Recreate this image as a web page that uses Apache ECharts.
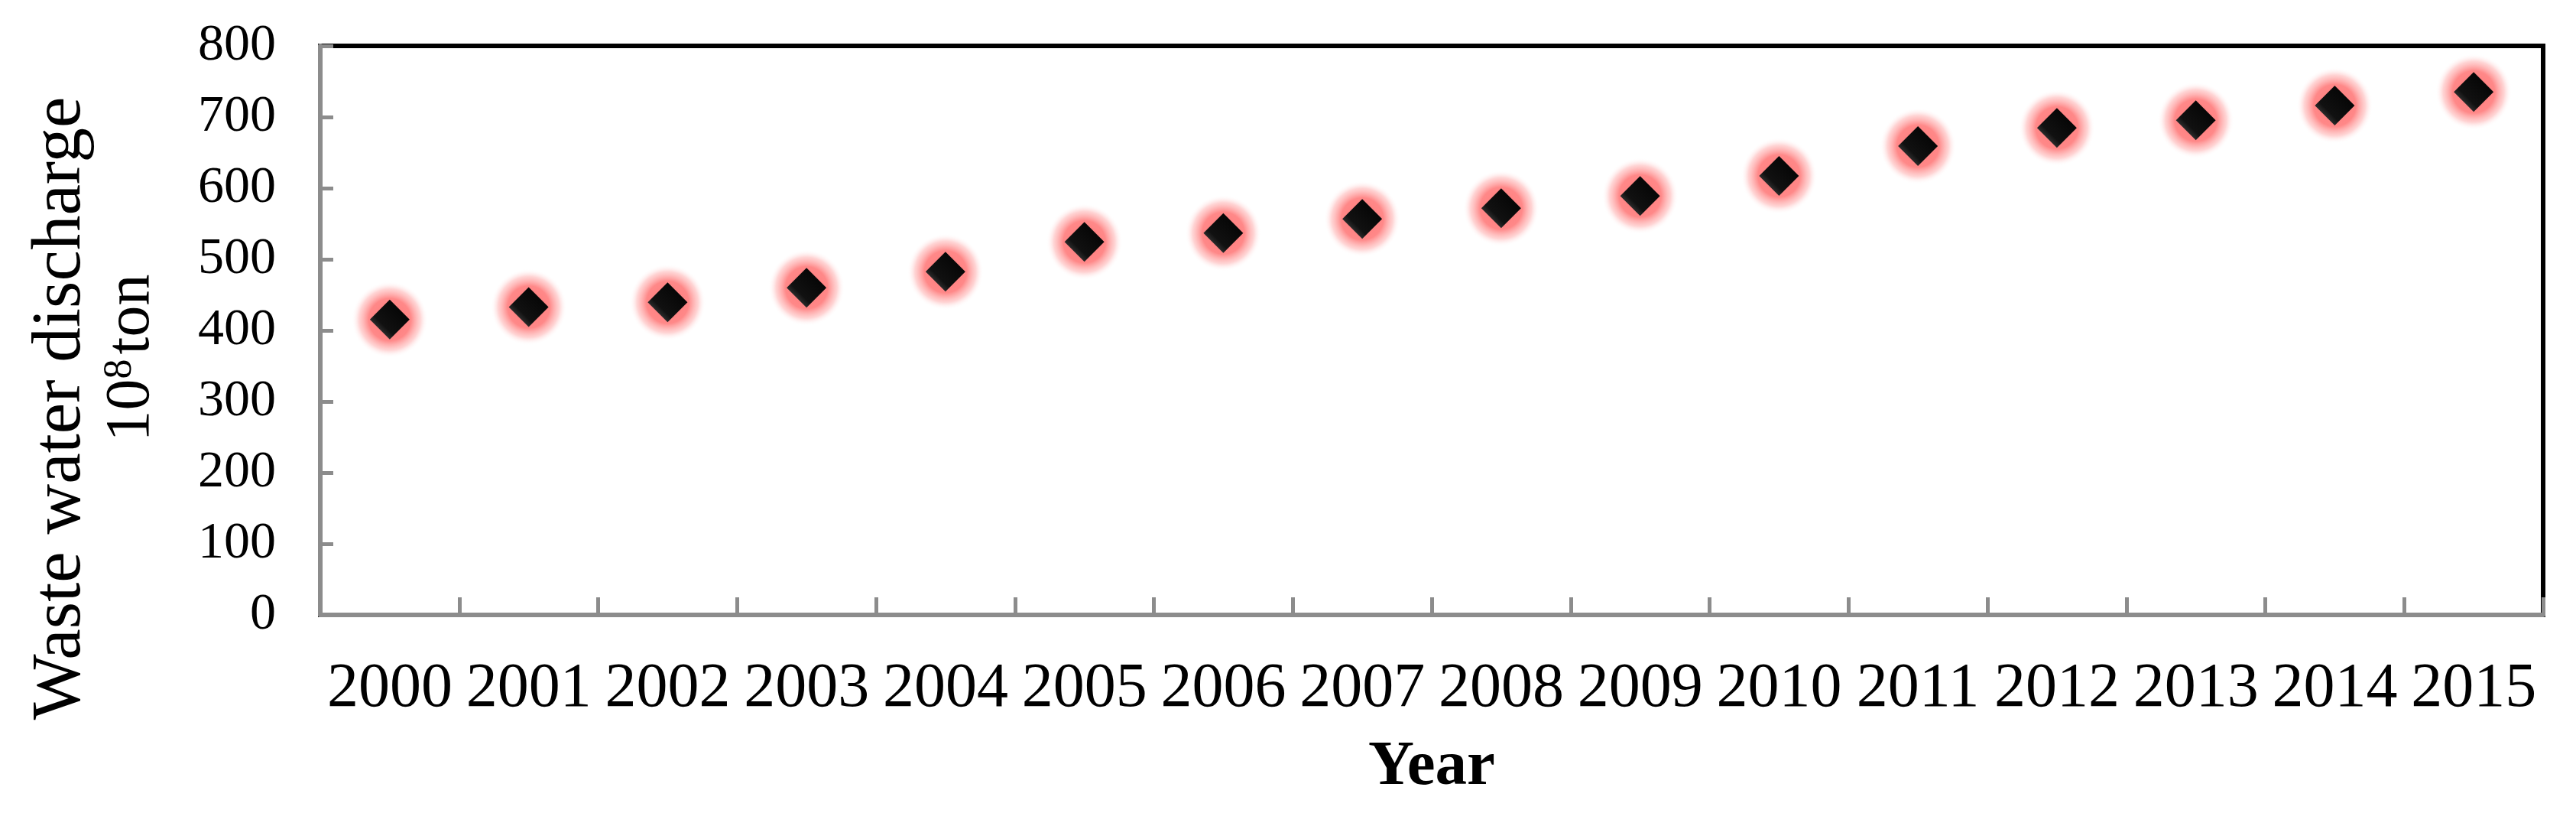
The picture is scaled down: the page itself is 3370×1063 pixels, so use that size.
<!DOCTYPE html>
<html>
<head>
<meta charset="utf-8">
<script src="https://cdn.jsdelivr.net/npm/echarts@6/dist/echarts.min.js"></script>
<style>
html,body{margin:0;padding:0;background:#fff;}
#chart{width:3370px;height:1063px;}
</style>
</head>
<body>
<div id="chart"></div>
<script>
const years = ['2000','2001','2002','2003','2004','2005','2006','2007','2008','2009','2010','2011','2012','2013','2014','2015'];
const discharge = [415.2, 432.9, 439.5, 460.0, 482.4, 524.5, 536.8, 556.8, 571.7, 589.1, 617.3, 659.2, 684.8, 695.4, 716.2, 735.3];
const yTitleLine1 = 'Waste water discharge';
const yTitleBase = '10';
const yTitleSup = '8';
const yTitleUnit = 'ton';
const xTitle = 'Year';

const FONT = '"Liberation Serif", "Times New Roman", serif';
const chart = echarts.init(document.getElementById('chart'), null, {renderer: 'canvas'});
chart.setOption({
  backgroundColor: '#ffffff',
  animation: false,
  grid: {
    left: 419, right: 43, top: 60, bottom: 259,
    show: true, borderColor: '#000000', borderWidth: 6, backgroundColor: 'transparent'
  },
  xAxis: {
    type: 'category',
    data: years,
    boundaryGap: true,
    name: xTitle,
    nameLocation: 'middle',
    nameGap: 158,
    nameTextStyle: {fontFamily: FONT, fontSize: 83, fontWeight: 'bold', color: '#000'},
    axisLine: {show: true, lineStyle: {color: '#8c8c8c', width: 6}},
    axisTick: {show: true, inside: true, length: 23, lineStyle: {color: '#8c8c8c', width: 5}},
    axisLabel: {fontFamily: FONT, fontSize: 82, color: '#000', margin: 56, interval: 0},
    splitLine: {show: false}
  },
  yAxis: {
    type: 'value',
    min: 0, max: 800, interval: 100,
    axisLine: {show: true, lineStyle: {color: '#8c8c8c', width: 6}},
    axisTick: {show: true, inside: true, length: 17, lineStyle: {color: '#8c8c8c', width: 5}},
    axisLabel: {fontFamily: FONT, fontSize: 68, color: '#000', margin: 58},
    splitLine: {show: false}
  },
  graphic: [
    {
      type: 'text', x: 80, y: 534, rotation: Math.PI / 2,
      style: {text: yTitleLine1, fontFamily: FONT, fontSize: 91, fill: '#000', align: 'center', verticalAlign: 'middle'}
    },
    {
      type: 'text', x: 172, y: 468, rotation: Math.PI / 2,
      style: {
        text: '{a|' + yTitleBase + '}{s|' + yTitleSup + '}{a|' + yTitleUnit + '}',
        fontFamily: FONT, fill: '#000', align: 'center', verticalAlign: 'middle',
        rich: {
          a: {fontFamily: FONT, fontSize: 82, fill: '#000', color: '#000'},
          s: {fontFamily: FONT, fontSize: 52, fill: '#000', color: '#000', verticalAlign: 'top', padding: [0, 6, 0, 0]}
        }
      }
    }
  ],
  series: [
    {
      name: 'glow',
      type: 'scatter',
      data: discharge,
      symbol: 'circle',
      symbolSize: 100,
      silent: true,
      z: 1,
      itemStyle: {
        color: new echarts.graphic.RadialGradient(0.5, 0.5, 0.5, [
          {offset: 0, color: 'rgba(255,120,120,1)'},
          {offset: 0.55, color: 'rgba(255,130,130,0.95)'},
          {offset: 0.8, color: 'rgba(255,170,170,0.5)'},
          {offset: 1, color: 'rgba(255,255,255,0)'}
        ]),
        opacity: 1
      }
    },
    {
      name: 'discharge',
      type: 'scatter',
      data: discharge,
      symbol: 'diamond',
      symbolSize: 52,
      z: 2,
      itemStyle: {
        color: new echarts.graphic.LinearGradient(0, 1, 1, 0, [
          {offset: 0, color: '#6a6a6a'},
          {offset: 0.35, color: '#111'},
          {offset: 1, color: '#000'}
        ]),
        opacity: 1
      }
    }
  ]
});
</script>
</body>
</html>
